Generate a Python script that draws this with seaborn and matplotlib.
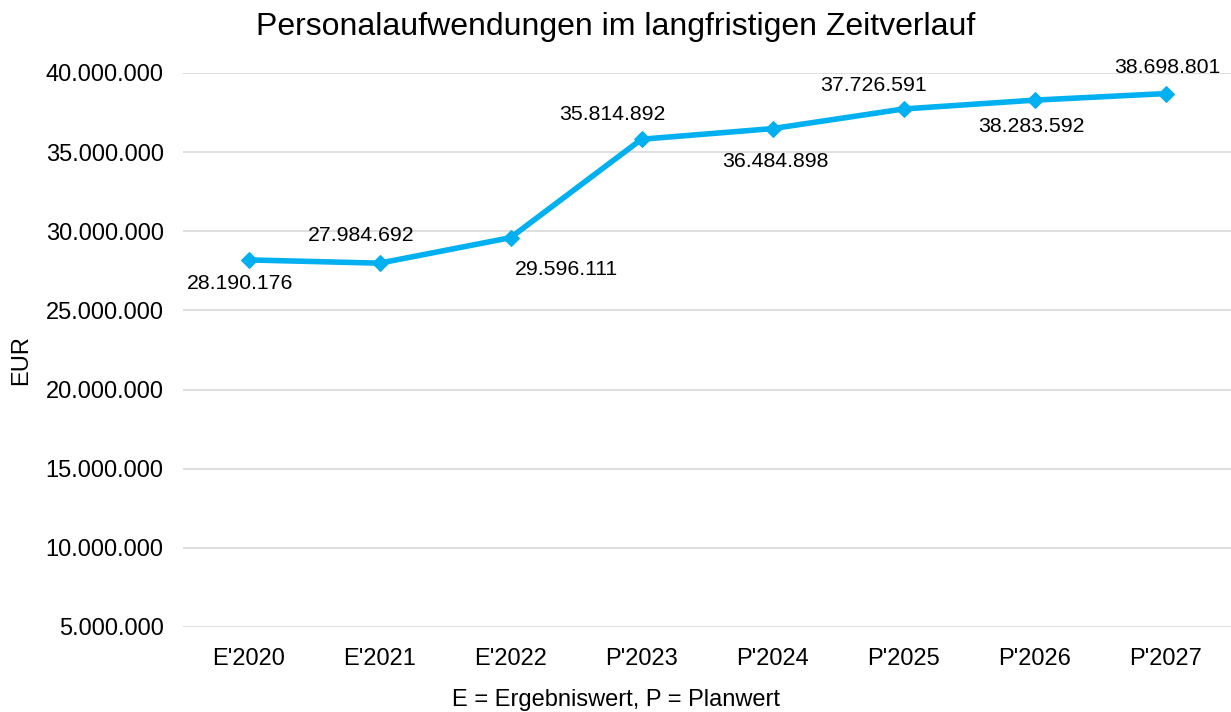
import numpy as np
import pandas as pd
import seaborn as sns
import matplotlib
matplotlib.use("Agg")
import matplotlib.pyplot as plt
from matplotlib.ticker import FuncFormatter

# data
years = ["E'2020", "E'2021", "E'2022", "P'2023", "P'2024", "P'2025", "P'2026", "P'2027"]
costs = [28190176, 27984692, 29596111, 35814892, 36484898, 37726591, 38283592, 38698801]
y_ticks = [5000000, 10000000, 15000000, 20000000, 25000000, 30000000, 35000000, 40000000]

# label offsets in points (alternating above / below like the original)
label_offsets = [(-6, -17), (-13, 20), (40, -23), (-21, 18), (2, -24), (-22, 17), (-2, -19), (1, 19)]


def de_fmt(v, pos=None):
    return f"{int(v):,}".replace(",", ".")


df = pd.DataFrame({"Jahr": years, "EUR": costs})

sns.set_style("white")
plt.rcParams["font.family"] = ["Liberation Sans", "DejaVu Sans"]
plt.rcParams["text.color"] = "black"

fig = plt.figure(figsize=(12.31, 7.12), dpi=100)
ax = fig.add_axes([0.1487, 0.1194, 0.8513, 0.7781])

sns.lineplot(data=df, x="Jahr", y="EUR", ax=ax, color="#00B0F0", linewidth=4,
             marker="D", markersize=8, markeredgecolor="#00B0F0", sort=False)

for i, (val, off) in enumerate(zip(costs, label_offsets)):
    ax.annotate(de_fmt(val), (i, val), xytext=off, textcoords="offset points",
                ha="center", va="center", fontsize=15.3, color="black")

ax.set_ylim(5000000, 40000000)
ax.set_xlim(-0.5, len(years) - 0.5)
ax.set_yticks(y_ticks)
ax.yaxis.set_major_formatter(FuncFormatter(de_fmt))
ax.grid(axis="y", color="#d9d9d9", linewidth=1.2)
ax.grid(axis="x", visible=False)
for s in ax.spines.values():
    s.set_visible(False)
ax.tick_params(axis="both", length=0, labelsize=17, colors="black")
ax.tick_params(axis="y", pad=14)
ax.tick_params(axis="x", pad=15)
ax.set_xlabel("")
ax.set_ylabel("")

fig.text(0.5, 0.962, "Personalaufwendungen im langfristigen Zeitverlauf",
         ha="center", va="center", fontsize=23, color="black")
fig.text(0.5, 0.017, "E = Ergebniswert, P = Planwert", ha="center", va="center",
         fontsize=17, color="black")
fig.text(0.017, 0.494, "EUR", ha="center", va="center", rotation=90, fontsize=17, color="black")

fig.savefig("out.png", dpi=100)
